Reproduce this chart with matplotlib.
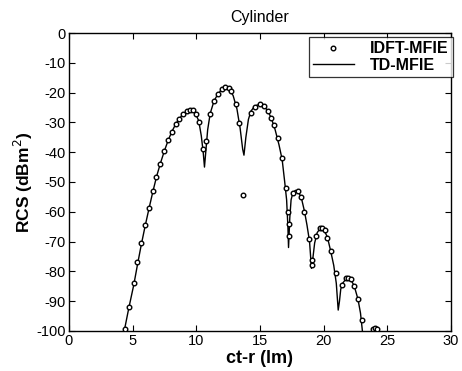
import matplotlib
matplotlib.use("Agg")
import matplotlib.pyplot as plt

plt.rcParams['font.family'] = ['Liberation Sans', 'DejaVu Sans']
plt.rcParams['axes.unicode_minus'] = False

# TD-MFIE curve
td_x = [4.0, 4.35, 4.7, 5.1, 5.4, 5.7, 6.0, 6.3, 6.6, 6.9, 7.2, 7.5, 7.8, 8.1, 8.4, 8.7,
        9.0, 9.3, 9.6, 9.9, 10.2, 10.4, 10.55, 10.65, 10.75, 10.9, 11.1, 11.4, 11.7,
        12.0, 12.3, 12.6, 12.9, 13.2, 13.45, 13.65, 13.75, 13.9, 14.1, 14.3, 14.6,
        15.0, 15.3, 15.6, 15.9, 16.2, 16.5, 16.75, 16.95, 17.1, 17.2, 17.25, 17.35,
        17.45, 17.6, 17.8, 18.0, 18.25, 18.5, 18.7, 18.9, 19.05, 19.15, 19.3, 19.5,
        19.75, 20.0, 20.3, 20.55, 20.8, 21.0, 21.15, 21.25, 21.35, 21.5, 21.8, 22.1,
        22.4, 22.7, 22.9, 23.05, 23.2, 23.5, 23.8, 23.9, 24.05, 24.2, 24.3, 24.5, 24.8]
td_y = [-112, -100, -92.5, -84.5, -77.5, -70.8, -64.6, -58.8, -53.2, -48.0, -43.6, -39.6,
        -36.0, -33.0, -30.5, -28.6, -27.1, -26.2, -25.9, -26.6, -29.5, -34.5, -40, -45,
        -40, -32.5, -27, -22.8, -20.5, -19.0, -18.3, -18.9, -21.0, -25.5, -32, -39, -41,
        -35, -29, -26.2, -24.5, -23.9, -24.4, -26.0, -28.6, -32.5, -37.5, -42.5, -50,
        -56, -65, -72, -62, -56, -53.5, -52.8, -53.2, -55.2, -59.8, -64.5, -70, -79,
        -76, -70.5, -67, -65.5, -65.8, -68.5, -73, -78, -84, -93, -90, -86, -84, -82.3,
        -82.5, -84.8, -89.3, -94, -100, -106, -110, -100.5, -99.3, -98.9, -99.3, -100.5,
        -106, -115]

# IDFT-MFIE samples
idft_x = [4.42, 4.72, 5.08, 5.38, 5.68, 6.0, 6.3, 6.6, 6.88, 7.18, 7.5, 7.8, 8.1, 8.4,
          8.68, 8.98, 9.3, 9.55, 9.75, 9.95, 10.22, 10.5, 10.8, 11.1, 11.4, 11.7, 12.0,
          12.3, 12.55, 12.7, 13.1, 13.4, 13.67, 14.27, 14.6, 15.0, 15.3, 15.6, 15.9,
          16.1, 16.4, 16.74, 17.06, 17.22, 17.27, 17.32, 17.6, 17.98, 18.24, 18.5,
          18.87, 19.06, 19.1, 19.4, 19.7, 19.9, 20.1, 20.3, 20.55, 20.97, 21.47, 21.8,
          21.95, 22.15, 22.4, 22.7, 23.0, 23.9, 24.05, 24.2]
idft_y = [-99.3, -92, -84, -77, -70.5, -64.4, -58.7, -53, -48.4, -43.8, -39.6, -35.9,
          -33.1, -30.6, -28.8, -27.1, -26.2, -25.9, -26.0, -27.2, -30, -39, -36.1, -27.1,
          -22.8, -20.6, -18.9, -18.2, -18.4, -19.4, -23.9, -30.3, -54.5, -27, -24.7,
          -23.9, -24.5, -26.2, -28.6, -31, -35.3, -42, -52.1, -60, -64, -68, -53.6, -53,
          -54.9, -60, -69.2, -78, -76.2, -68.3, -65.3, -65.5, -66.1, -68.7, -73.2, -80.7,
          -84.6, -82.3, -82.2, -82.6, -84.8, -89.3, -96.3, -99.2, -99, -99.2]

xticks = [0, 5, 10, 15, 20, 25, 30]
yticks = [0, -10, -20, -30, -40, -50, -60, -70, -80, -90, -100]

fig = plt.figure(figsize=(4.62, 3.71), dpi=100)
ax = fig.add_axes([0.149, 0.108, 0.827, 0.803])

ax.plot(idft_x, idft_y, linestyle='none', marker='o', markersize=3.3,
        markerfacecolor='white', markeredgecolor='black', markeredgewidth=1.0,
        label='IDFT-MFIE', zorder=3)
ax.plot(td_x, td_y, color='black', linewidth=1.0, label='TD-MFIE', zorder=2)

ax.set_xlim(0, 30)
ax.set_ylim(-100, 0)
ax.set_xticks(xticks)
ax.set_yticks(yticks)
ax.tick_params(direction='in', top=True, right=True, length=4, width=0.8,
               labelsize=10.5, pad=2)
for s in ax.spines.values():
    s.set_linewidth(1.0)

ax.set_title('Cylinder', fontsize=11.5, pad=8)
ax.set_xlabel('ct-r (lm)', fontsize=13, fontweight='bold', labelpad=2)
ax.set_ylabel('RCS (dBm$^2$)', fontsize=12.5, fontweight='bold', labelpad=1)

leg = ax.legend(loc='upper right', bbox_to_anchor=(1.005, 0.985),
                prop={'size': 11.5, 'weight': 'bold'},
                frameon=True, fancybox=False, edgecolor='black', handlelength=2.6,
                borderpad=0.25, labelspacing=0.1, handletextpad=1.0, borderaxespad=0.0)
leg.get_frame().set_linewidth(0.9)

fig.savefig('out.png', dpi=100)
